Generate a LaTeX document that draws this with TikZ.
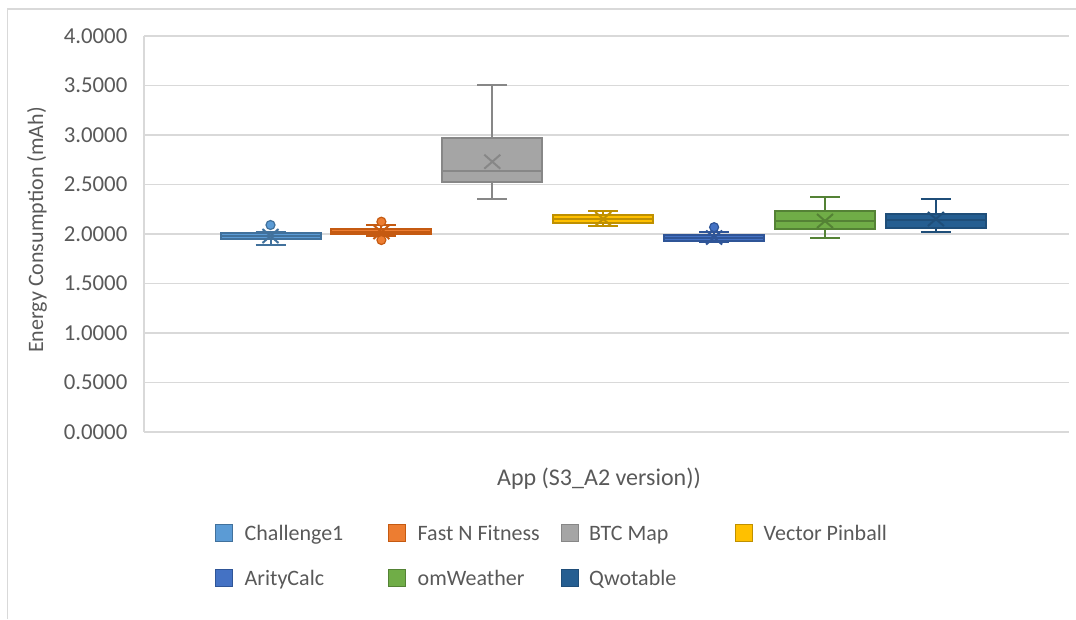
\documentclass[tikz,border=0pt]{standalone}
\usepackage{fontspec}
\setmainfont{Carlito}
\definecolor{txt}{HTML}{595959}
\definecolor{grid}{HTML}{D9D9D9}
\definecolor{frame}{HTML}{D9D9D9}
% series colours (fill) and their darker outlines
\definecolor{cA}{HTML}{5B9BD5}\definecolor{cAd}{HTML}{41719C}
\definecolor{cB}{HTML}{ED7D31}\definecolor{cBd}{HTML}{C55A11}
\definecolor{cC}{HTML}{A5A5A5}\definecolor{cCd}{HTML}{878787}
\definecolor{cD}{HTML}{FFC000}\definecolor{cDd}{HTML}{BF9000}
\definecolor{cE}{HTML}{4472C4}\definecolor{cEd}{HTML}{2F5597}
\definecolor{cF}{HTML}{70AD47}\definecolor{cFd}{HTML}{548235}
\definecolor{cG}{HTML}{255E91}\definecolor{cGd}{HTML}{1F4E79}
\tikzset{
  gridline/.style={draw=grid, line width=1.3pt},
  whisk/.style={line width=2pt},
  boxshape/.style={line width=2pt},
  outlier/.style={line width=1.2pt},
  chartfont/.style={text=txt, font=\fontsize{22}{26}\selectfont, inner sep=0pt},
  ticklabel/.style={chartfont, font=\fontsize{22.8}{27}\selectfont, anchor=east},
  legtext/.style={chartfont, anchor=base west},
  legsq/.style={minimum size=17pt, inner sep=0pt, line width=1.3pt},
}
% box-and-whisker: centre x, top whisker, Q3, median, Q1, bottom whisker, mean, colour
\newcommand\bwplot[8]{%
  \draw[whisk, draw=#8d] (#1,#2) -- (#1,#6);
  \draw[whisk, draw=#8d] (#1-15,#2) -- (#1+15,#2);
  \draw[whisk, draw=#8d] (#1-15,#6) -- (#1+15,#6);
  \draw[boxshape, fill=#8, draw=#8d] (#1-50,#3) rectangle (#1+50,#5);
  \draw[boxshape, draw=#8d] (#1-50,#4) -- (#1+50,#4);
  \draw[whisk, draw=#8d] (#1-8,#7-7) -- (#1+8,#7+7) (#1-8,#7+7) -- (#1+8,#7-7);
}
\newcommand\outlierdot[3]{%
  \draw[outlier, fill=#3, draw=#3d] (#1,#2) circle (4.5);
}
\begin{document}
\begin{tikzpicture}[x=1pt, y=-1pt]
\useasboundingbox (0,0) rectangle (1076,619);
% chart area border (cut at the right and bottom edges)
\draw[draw=frame, line width=1.3pt] (7.5,619) -- (7.5,9) -- (1076,9);

% horizontal grid and value labels
\foreach \v [count=\i from 0] in {0.0000,0.5000,1.0000,1.5000,2.0000,2.5000,3.0000,3.5000,4.0000} {
  \draw[gridline] (144,432-49.5*\i) -- (1069,432-49.5*\i);
  \node[ticklabel] (tick\i) at (127.5,432-49.5*\i) {\v};
}
\draw[gridline] (144,36) -- (144,432);

% axis titles
\node[chartfont, rotate=90] (ytitle) at (37,230) {Energy Consumption (mAh)};
\node[chartfont, font=\fontsize{24}{28}\selectfont] (xtitle) at (599,479) {App (S3\_A2 version))};

% box plots
\bwplot{270.5}{232}{233.3}{236}{239.3}{245}{236}{cA}
\outlierdot{270.5}{225}{cA}
\bwplot{381.4}{225}{228.7}{231.5}{234}{235.5}{232}{cB}
\outlierdot{381.4}{221.7}{cB}
\outlierdot{381.4}{240}{cB}
\bwplot{492.3}{84.7}{138.3}{170.7}{181.7}{199}{161.7}{cC}
\bwplot{603.2}{211}{215}{219}{223.3}{225.7}{219}{cD}
\bwplot{714.1}{231.7}{235}{238}{241}{241.7}{237.5}{cE}
\outlierdot{714.1}{227.2}{cE}
\bwplot{825}{197.3}{210.7}{221}{228.7}{237.7}{221}{cF}
\bwplot{935.9}{199}{214}{220}{227.7}{232}{219}{cG}

% legend
\node[legsq, fill=cA, draw=cAd] (lA) at (224,533) {};
\node[legtext] (tA) at (244.5,540.5) {Challenge1};
\node[legsq, fill=cB, draw=cBd] (lB) at (397,533) {};
\node[legtext] (tB) at (417.5,540.5) {Fast N Fitness};
\node[legsq, fill=cC, draw=cCd] (lC) at (570,533) {};
\node[legtext] (tC) at (589,540.5) {BTC Map};
\node[legsq, fill=cD, draw=cDd] (lD) at (744,533) {};
\node[legtext] (tD) at (763.5,540.5) {Vector Pinball};
\node[legsq, fill=cE, draw=cEd] (lE) at (224,578) {};
\node[legtext] (tE) at (244.5,585.5) {ArityCalc};
\node[legsq, fill=cF, draw=cFd] (lF) at (397,578) {};
\node[legtext] (tF) at (417.5,585.5) {omWeather};
\node[legsq, fill=cG, draw=cGd] (lG) at (570,578) {};
\node[legtext] (tG) at (589,585.5) {Qwotable};
\end{tikzpicture}
\end{document}
